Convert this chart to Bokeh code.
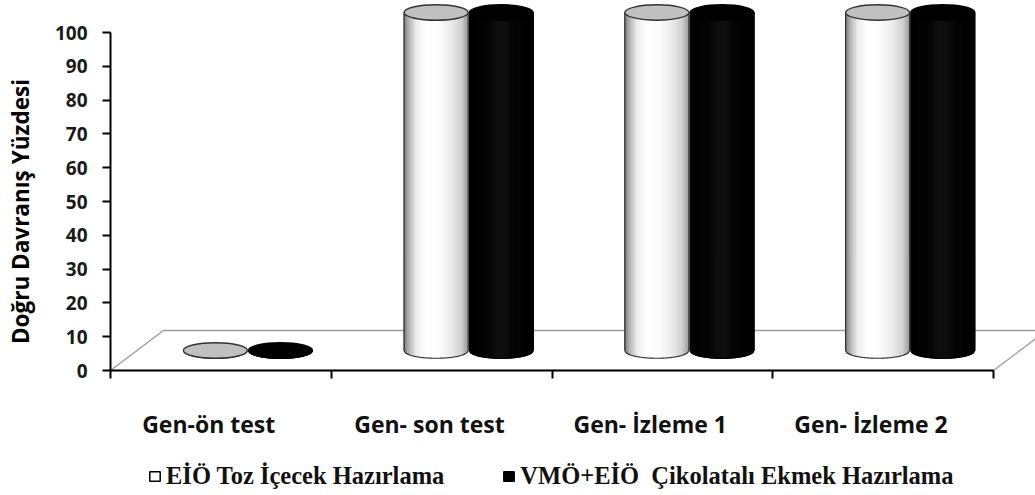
import numpy as np
from bokeh.plotting import figure
from bokeh.models import Range1d, FixedTicker, Legend, LegendItem
from bokeh.core.properties import value
from bokeh.embed import file_html
from bokeh.resources import INLINE

# --- data -------------------------------------------------------------
categories = ["Gen-ön test", "Gen- son test", "Gen- İzleme 1", "Gen- İzleme 2"]
eio_toz_icecek = [0, 100, 100, 100]          # EİÖ Toz İçecek Hazırlama
vmo_eio_ekmek = [0, 100, 100, 100]           # VMÖ+EİÖ Çikolatalı Ekmek Hazırlama
series_names = ["EİÖ Toz İçecek Hazırlama", "VMÖ+EİÖ  Çikolatalı Ekmek Hazırlama"]
y_ticks = list(range(0, 101, 10))
y_title = "Doğru Davranış Yüzdesi"

# --- scale: pixels per unit, and where the value axes sit --------------
PX_X = 220.75      # one category
PX_Y = 3.38        # one percent
LEFT, BOTTOM = 110, 125          # pixels left of / below the origin
W, H = 1035, 495

p = figure(width=W, height=H, output_backend="svg", toolbar_location=None,
           x_range=Range1d(-LEFT / PX_X, (W - LEFT) / PX_X),
           y_range=Range1d(-BOTTOM / PX_Y, (H - BOTTOM) / PX_Y),
           min_border_left=0, min_border_right=0, min_border_top=0,
           min_border_bottom=0)
p.xgrid.visible = False
p.ygrid.visible = False
p.outline_line_color = None
p.background_fill_color = "white"
p.border_fill_color = "white"

# 3-D floor depth (in data units)
DEPTH_X = 53 / PX_X
DEPTH_Y = 40 / PX_Y
n = len(categories)

# floor plane
p.patch([0, n, n + DEPTH_X, DEPTH_X], [0, 0, DEPTH_Y, DEPTH_Y],
        fill_color="white", line_color="#9a9a9a", line_width=1.3)

# cylinders
RX = 0.145
RY = 2.3
BASE = DEPTH_Y / 2
OFFSETS = [-0.145, 0.15]


def white_shade(t):
    stops_t = [0.0, 0.08, 0.2, 0.35, 0.55, 0.75, 0.9, 1.0]
    stops_v = [0.45, 0.70, 0.93, 1.0, 0.99, 0.92, 0.82, 0.62]
    return np.interp(t, stops_t, stops_v)


def black_shade(t):
    stops_t = [0.0, 0.3, 0.45, 0.55, 0.7, 1.0]
    stops_v = [0.0, 0.02, 0.06, 0.06, 0.02, 0.0]
    return np.interp(t, stops_t, stops_v)


def hexgray(v):
    g = int(round(255 * float(v)))
    return "#%02x%02x%02x" % (g, g, g)


def cylinder(cx, val, shade, body_fill, top_fill, edge):
    yb = BASE
    yt = BASE + val
    arc_x = np.linspace(cx - RX, cx + RX, 60)
    arc_y = yb - RY * np.sqrt(np.clip(1 - ((arc_x - cx) / RX) ** 2, 0, 1))
    ox = [cx - RX] + list(arc_x) + [cx + RX]
    oy = [yt] + list(arc_y) + [yt]
    # solid body underneath the shaded strips
    p.patch(ox, oy, fill_color=body_fill, line_color=None)
    nstrip = 36
    edges = np.linspace(cx - RX, cx + RX, nstrip + 1)
    xs, ys, cols = [], [], []
    for k in range(nstrip):
        x0, x1 = edges[k], edges[k + 1]
        u0 = np.clip((x0 - cx) / RX, -1, 1)
        u1 = np.clip((x1 - cx) / RX, -1, 1)
        b0 = yb - RY * np.sqrt(1 - u0 ** 2)
        b1 = yb - RY * np.sqrt(1 - u1 ** 2)
        xs.append([x0, x1, x1, x0])
        ys.append([yt, yt, b1, b0])
        cols.append(hexgray(shade((k + 0.5) / nstrip)))
    p.patches(xs, ys, fill_color=cols, line_color=cols, line_width=1.2)
    # outline of the body
    p.line(ox, oy, line_color=edge, line_width=1.2)
    # top face
    p.ellipse(x=[cx], y=[yt], width=[2 * RX], height=[2 * RY],
              fill_color=top_fill, line_color=edge, line_width=1.3)


for i in range(n):
    c = i + 0.5 + DEPTH_X / 2
    cylinder(c + OFFSETS[1], vmo_eio_ekmek[i], black_shade, "black", "black", "black")
    cylinder(c + OFFSETS[0], eio_toz_icecek[i], white_shade, "#f4f4f4", "#c0c0c0", "#333333")

# --- axes (pinned to the origin) ---------------------------------------
yax = p.yaxis[0]
yax.fixed_location = 0
yax.ticker = FixedTicker(ticks=y_ticks)
yax.bounds = (0, 100)
yax.minor_tick_line_color = None
yax.major_tick_in = 0
yax.major_tick_out = 8
yax.major_tick_line_width = 2
yax.axis_line_width = 2
yax.major_label_standoff = 15
yax.major_label_text_font = "Open Sans"
yax.major_label_text_font_style = "bold"
yax.major_label_text_font_size = "19px"
yax.major_label_text_color = "#1a1a1a"

xax = p.xaxis[0]
xax.fixed_location = 0
xax.ticker = FixedTicker(ticks=list(range(n + 1)))
xax.bounds = (0, n)
xax.minor_tick_line_color = None
xax.major_tick_in = 0
xax.major_tick_out = 8
xax.major_tick_line_width = 2
xax.axis_line_width = 2
xax.major_label_overrides = {i: "" for i in range(n + 1)}

# value-axis title, rotated
p.text(x=[(20 - LEFT) / PX_X], y=[(370 - 211) / PX_Y], text=[y_title],
       angle=np.pi / 2, text_align="center", text_baseline="middle",
       text_font=value("Open Sans"), text_font_style="bold",
       text_font_size="22.5px", text_color="black")

# category names under each group
p.text(x=[i + 0.445 for i in range(n)], y=[-53 / PX_Y] * n, text=categories,
       text_align="center", text_baseline="alphabetic",
       text_font=value("Open Sans"), text_font_style="bold",
       text_font_size="23px", text_color="#111111")

# legend swatches: hidden proxy bars, used only for their legend glyphs
r_white = p.vbar(x=[1], top=[1], width=0.1, fill_color="white",
                 line_color="black", line_width=1.5, visible=False)
r_black = p.vbar(x=[1], top=[1], width=0.1, fill_color="black",
                 line_color="black", line_width=1.5, visible=False)
legend = Legend(items=[LegendItem(label=series_names[0], renderers=[r_white]),
                       LegendItem(label=series_names[1], renderers=[r_black])],
                orientation="horizontal", location=(148, 5),
                padding=0, margin=0, spacing=58, label_standoff=5,
                glyph_width=13, glyph_height=12,
                border_line_color=None, background_fill_alpha=0,
                label_text_font="Liberation Serif", label_text_font_style="bold",
                label_text_font_size="24.5px", label_text_color="#111111")
p.add_layout(legend)

open("out.html", "w").write(file_html(p, INLINE))
